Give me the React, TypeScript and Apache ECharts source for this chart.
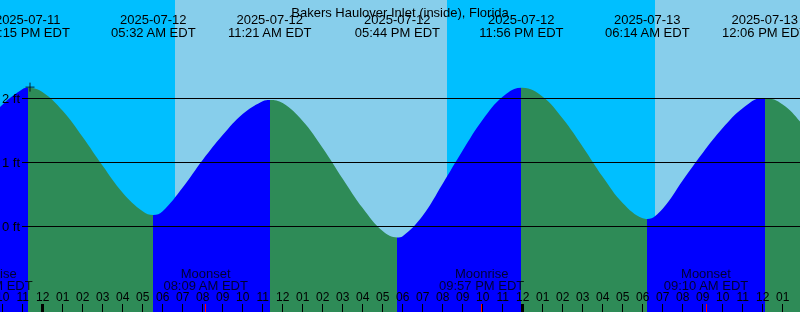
import React, { useEffect, useRef } from 'react';
import * as echarts from 'echarts';

const TITLE = 'Bakers Haulover Inlet (inside), Florida';
const BASE = '2025-07-12 00:00';
const VIEW_START = '2025-07-11 21:52';
const VIEW_END = '2025-07-13 13:52';

// high / low tide events (local time, feet); first and last lie outside the view
const extremeTimes = [
  '2025-07-11 17:06', '2025-07-11 23:15', '2025-07-12 05:32', '2025-07-12 11:21',
  '2025-07-12 17:44', '2025-07-12 23:56', '2025-07-13 06:14', '2025-07-13 12:06',
  '2025-07-13 18:30',
];
const extremeHeights = [-0.15, 2.16, 0.17, 1.97, -0.18, 2.16, 0.11, 2.0, -0.15];

// hourly readings of the tide curve (hours from 2025-07-12 00:00, feet)
const sampleHours = [
  -6, -5, -4, -3, -2, -1, 0, 1, 2, 3, 4, 5, 6, 7, 8, 9, 10, 11, 12, 13, 14, 15, 16, 17,
  18, 19, 20, 21, 22, 23, 24, 25, 26, 27, 28, 29, 30, 31, 32, 33, 34, 35, 36, 37, 38, 39,
];
const sampleHeights = [
  0.09, 0.6, 1.12, 1.56, 1.9, 2.14, 2.09, 1.8, 1.39, 0.94, 0.52, 0.23, 0.23, 0.6, 1.03, 1.42,
  1.75, 1.95, 1.92, 1.64, 1.22, 0.74, 0.28, -0.08, -0.16, 0.16, 0.66, 1.18, 1.66, 2.02, 2.16, 2.02,
  1.68, 1.24, 0.77, 0.36, 0.12, 0.27, 0.71, 1.14, 1.53, 1.84, 2.0, 1.9, 1.58, 1.13,
];

// daylight spans
const dayStarts = ['2025-07-12 06:37', '2025-07-13 06:37'];
const dayEnds = ['2025-07-12 20:13', '2025-07-13 20:13'];

// moon events
const moonNames = ['Moonrise', 'Moonset', 'Moonrise', 'Moonset'];
const moonTimes = ['2025-07-11 21:22', '2025-07-12 08:09', '2025-07-12 21:57', '2025-07-13 09:10'];

// hour ticks (hours from 2025-07-12 00:00)
const hourTicks = [
  -2, -1, 0, 1, 2, 3, 4, 5, 6, 7, 8, 9, 10, 11, 12, 13, 14, 15, 16, 17, 18, 19,
  20, 21, 22, 23, 24, 25, 26, 27, 28, 29, 30, 31, 32, 33, 34, 35, 36, 37,
];
const midnightTimes = ['2025-07-12 00:00', '2025-07-13 00:00'];
const levelLines = [0, 1, 2];
const markTime = '2025-07-11 23:22';
const markHeight = 2.17;

const Y_MIN = -1.34375;
const Y_MAX = 3.53125;
const MOON_LABEL_Y = -0.84;

const FONT = 'Liberation Sans, Arial, sans-serif';
const NIGHT = '#00BFFF';
const DAY = '#87CEEB';
const RISE = '#0000FF';
const FALL = '#2E8B57';

function parseMs(s: string): number {
  const [d, t] = s.split(' ');
  const [Y, M, D] = d.split('-').map(Number);
  const [h, m] = t.split(':').map(Number);
  return Date.UTC(Y, M - 1, D, h, m);
}
const baseMs = parseMs(BASE);
const toH = (s: string) => (parseMs(s) - baseMs) / 3600000;

function fmtTime(s: string): string {
  const t = s.split(' ')[1];
  const [h, m] = t.split(':').map(Number);
  const h12 = h % 12 === 0 ? 12 : h % 12;
  const ap = h < 12 ? 'AM' : 'PM';
  return `${String(h12).padStart(2, '0')}:${String(m).padStart(2, '0')} ${ap} EDT`;
}
function fmtEvent(s: string): string {
  return `${s.split(' ')[0]}\n${fmtTime(s)}`;
}
function hourLabel(v: number): string {
  const h = ((Math.round(v) % 24) + 24) % 24;
  const h12 = h % 12 === 0 ? 12 : h % 12;
  return String(h12).padStart(2, '0');
}

export default function App() {
  const ref = useRef<HTMLDivElement>(null);
  useEffect(() => {
    if (!ref.current) return;
    const chart = echarts.init(ref.current, null, { renderer: 'svg' });
    const xMin = toH(VIEW_START);
    const xMax = toH(VIEW_END);

    const extremeHours = extremeTimes.map(toH);
    const tideData = [
      ...extremeHours.map((h, i) => [h, extremeHeights[i]]),
      ...sampleHours.map((h, i) => [h, sampleHeights[i]]),
    ].sort((a, b) => a[0] - b[0]);

    // rising / falling pieces between consecutive extremes
    const pieces: any[] = [];
    for (let i = 0; i < extremeHours.length - 1; i++) {
      pieces.push({
        gte: i === 0 ? -1000 : extremeHours[i],
        lt: i === extremeHours.length - 2 ? 1000 : extremeHours[i + 1],
        color: extremeHeights[i + 1] > extremeHeights[i] ? RISE : FALL,
      });
    }

    const visibleEvents = extremeTimes.filter((t) => toH(t) >= xMin && toH(t) <= xMax);
    const eventHours = visibleEvents.map(toH);

    const baseX = {
      type: 'value' as const,
      min: xMin,
      max: xMax,
      gridIndex: 0,
      position: 'bottom' as const,
      splitLine: { show: false },
      axisLine: { show: false, onZero: false },
      z: 10,
    };

    const option: any = {
      animation: false,
      title: {
        text: TITLE,
        left: 'center',
        top: 1,
        textStyle: { fontFamily: FONT, fontSize: 13, fontWeight: 'normal', color: '#000' },
        z: 20,
      },
      grid: [
        { left: 0, right: 0, top: 0, bottom: 0, show: true, backgroundColor: NIGHT, borderWidth: 0, outerBoundsMode: 'none', containLabel: false },
        { left: 22, right: 0, top: 0, bottom: 0, outerBoundsMode: 'none', containLabel: false },
      ],
      xAxis: [
        {
          ...baseX,
          axisTick: { show: true, inside: true, length: 8, customValues: hourTicks, lineStyle: { color: '#000', width: 1 } },
          axisLabel: {
            show: true, inside: true, margin: 9, customValues: hourTicks,
            formatter: hourLabel, fontFamily: FONT, fontSize: 12, color: '#000',
          },
        },
        {
          ...baseX,
          axisTick: { show: true, inside: true, length: 8, customValues: midnightTimes.map(toH), lineStyle: { color: '#000', width: 3 } },
          axisLabel: { show: false },
        },
        {
          ...baseX,
          axisTick: { show: true, inside: true, length: 8, customValues: moonTimes.map(toH), lineStyle: { color: '#FF0000', width: 1 } },
          axisLabel: { show: false },
        },
        {
          ...baseX,
          position: 'top',
          axisTick: { show: false },
          axisLabel: {
            show: true, inside: true, margin: 13, customValues: eventHours,
            formatter: (v: number) => fmtEvent(visibleEvents[eventHours.findIndex((e) => Math.abs(e - v) < 1e-6)]),
            fontFamily: FONT, fontSize: 13, lineHeight: 13, color: '#000', align: 'center',
          },
        },
        { ...baseX, gridIndex: 1, show: false },
      ],
      yAxis: [
        { type: 'value', min: Y_MIN, max: Y_MAX, gridIndex: 0, show: false },
        { type: 'value', min: Y_MIN, max: Y_MAX, gridIndex: 1, show: false },
      ],
      visualMap: {
        type: 'piecewise',
        show: false,
        dimension: 0,
        seriesIndex: 1,
        pieces,
      },
      series: [
        {
          type: 'line',
          xAxisIndex: 0,
          yAxisIndex: 0,
          data: [],
          z: 1,
          silent: true,
          markArea: {
            silent: true,
            itemStyle: { color: DAY, opacity: 1 },
            data: dayStarts.map((s, i) => [{ xAxis: toH(s) }, { xAxis: toH(dayEnds[i]) }]),
          },
        },
        {
          type: 'line',
          xAxisIndex: 0,
          yAxisIndex: 0,
          data: tideData,
          smooth: 0.4,
          symbol: 'none',
          lineStyle: { width: 0 },
          areaStyle: { opacity: 1, origin: 'start' },
          z: 2,
          silent: true,
        },
        {
          type: 'line',
          xAxisIndex: 4,
          yAxisIndex: 1,
          data: [],
          z: 3,
          silent: true,
          markLine: {
            silent: true,
            symbol: 'none',
            lineStyle: { color: '#000', width: 1, type: 'solid' },
            label: {
              show: true, position: 'start', distance: 2,
              formatter: (p: any) => `${p.value} ft`,
              fontFamily: FONT, fontSize: 13, color: '#000',
            },
            data: levelLines.map((v) => ({ yAxis: v })),
          },
        },
        {
          type: 'scatter',
          xAxisIndex: 0,
          yAxisIndex: 0,
          clip: false,
          symbolSize: 0.1,
          itemStyle: { color: 'rgba(0,0,0,0)' },
          z: 5,
          silent: true,
          data: moonTimes.map((t, i) => ({ value: [toH(t), MOON_LABEL_Y], name: moonNames[i] })),
          label: {
            show: true, position: 'inside',
            formatter: (p: any) => `${p.name}\n${fmtTime(moonTimes[p.dataIndex])}`,
            fontFamily: FONT, fontSize: 13, lineHeight: 12, color: '#000',
          },
        },
        {
          type: 'scatter',
          xAxisIndex: 0,
          yAxisIndex: 0,
          symbol: 'path://M5,0 L5,10 M0,5 L10,5',
          symbolSize: 9,
          itemStyle: { color: 'none', borderColor: '#000', borderWidth: 1 },
          z: 6,
          silent: true,
          data: [[toH(markTime), markHeight]],
        },
      ],
    };
    chart.setOption(option);
    return () => chart.dispose();
  }, []);
  return <div ref={ref} style={{ position: 'fixed', left: 0, top: 0, width: 800, height: 312 }} />;
}
